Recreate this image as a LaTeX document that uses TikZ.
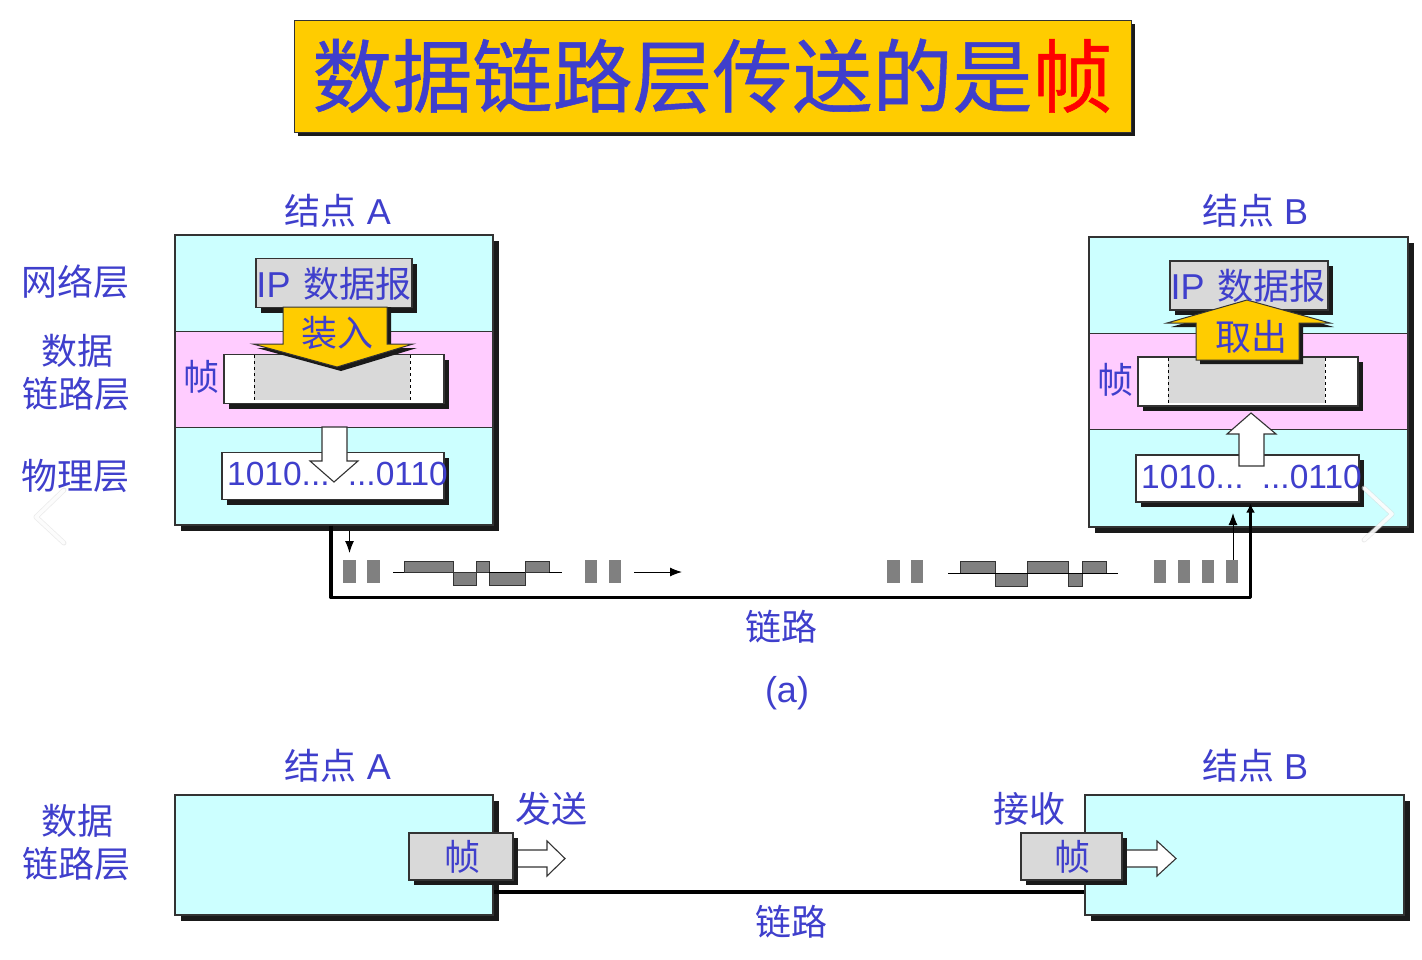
\documentclass[tikz,border=0pt]{standalone}
\usepackage{fontspec}
\setmainfont{Liberation Sans}
\newfontfamily\cjk{Noto Sans CJK SC}
\newfontfamily\cjkt[FakeBold=0.7]{Noto Sans CJK SC}
\usetikzlibrary{shadows,arrows.meta}
\definecolor{txtblue}{HTML}{3F3FCC}
\definecolor{cyanbg}{HTML}{CCFFFF}
\definecolor{pinkbg}{HTML}{FFCCFF}
\definecolor{graybox}{HTML}{D9D9D9}
\definecolor{goldbg}{HTML}{FFCC00}
\definecolor{wave}{HTML}{808080}
\definecolor{edge}{HTML}{333333}
\definecolor{shadowc}{HTML}{1A1A1A}
\newcommand{\zh}[1]{{\cjk #1}}
\tikzset{
  x=1pt,y=-1pt,
  lbl/.style={text=txtblue,font=\fontsize{36}{42}\selectfont,inner sep=0pt,align=center},
  sbox/.style 2 args={draw=edge,line width=1.2pt,inner sep=0pt,minimum width=#1,minimum height=#2,
     drop shadow={shadow xshift=5pt,shadow yshift=-5pt,fill=shadowc,opacity=1}},
  bigbox/.style 2 args={draw=edge,line width=1.2pt,fill=cyanbg,inner sep=0pt,minimum width=#1,minimum height=#2,
     drop shadow={shadow xshift=6pt,shadow yshift=-6pt,fill=shadowc,opacity=1}},
  layerline/.style={draw=edge,line width=1pt},
  bluearrow/.style={draw=edge,line width=1pt,fill=goldbg,line join=miter},
  hollow/.style={draw=edge,line width=1.1pt,fill=white,line join=miter},
  bitrect/.style={fill=wave,draw=none},
  wavefill/.style={fill=wave,draw=edge,line width=1pt},
  baseline/.style={draw=black,line width=1pt},
  thinarrow/.style={draw=black,line width=1pt,-{Latex[length=12pt,width=9pt]}},
  thicklink/.style={draw=black,line width=3.6pt,line join=round},
  chev/.style={draw=white,line width=3.5pt,line cap=round,line join=round,opacity=.85},
  chevedge/.style={draw=black!15,line width=5pt,line cap=round,line join=round,opacity=.5},
}
\begin{document}
\begin{tikzpicture}
\useasboundingbox (0,0) rectangle (1422,959);
\fill[white] (0,0) rectangle (1422,959);

% title
\node[draw=edge,line width=1pt,fill=goldbg,minimum width=837pt,minimum height=112pt,inner sep=0pt,
  drop shadow={shadow xshift=4pt,shadow yshift=-4pt,fill=shadowc,opacity=1},
  text=txtblue,font=\fontsize{80}{90}\selectfont] (title) at (712.5,76)
  {\raisebox{-3pt}{\cjkt 数据链路层传送的是\textcolor{red}{帧}}};

% ---------- node A
\node[bigbox={318pt}{290pt}] (nodeA) at (334,380) {};
\fill[pinkbg] (176,331) rectangle (492,427);
\draw[layerline] (175,331) -- (493,331) (175,427) -- (493,427);
\node[sbox={156pt}{49pt},fill=graybox] (ipA) at (334,283) {};
\node[sbox={220pt}{49pt},fill=white] (frameA) at (334,379) {};
\fill[graybox] (254,355) rectangle (410,400);
\draw[black,line width=.9pt,dashed] (254.5,355) -- (254.5,402) (410.5,355) -- (410.5,402);
\node[sbox={222pt}{47pt},fill=white] (bitsA) at (333,476) {};
\fill[shadowc] (287,307) -- (391,307) -- (391,348) -- (417,348) -- (341,371) -- (257,348) -- (287,348) -- cycle;
\draw[bluearrow] (283,307) -- (387,307) -- (387,344) -- (413,344) -- (337,367) -- (253,344) -- (283,344) -- cycle;
\draw[hollow] (322,427) -- (347,427) -- (347,461) -- (358,461) -- (334,482) -- (310,461) -- (322,461) -- cycle;
\node[lbl] (ipAt) at (334,284) {IP\hspace{3pt} \zh{数据报}};
\node[lbl] (inA) at (337,333) {\zh{装入}};
\node[lbl] (zhenA) at (201,377) {\zh{帧}};
\node[lbl,anchor=west,font=\fontsize{33.5}{40}\selectfont] (b1A) at (227,474) {1010...};
\node[lbl,anchor=east,font=\fontsize{33.5}{40}\selectfont] (b2A) at (448,474) {...0110};

% ---------- node B
\node[bigbox={319pt}{290pt}] (nodeB) at (1248.5,382) {};
\fill[pinkbg] (1090,333) rectangle (1407,429);
\draw[layerline] (1089,333) -- (1408,333) (1089,429) -- (1408,429);
\node[sbox={158pt}{49pt},fill=graybox] (ipB) at (1249,285.5) {};
\node[sbox={220pt}{49pt},fill=white] (frameB) at (1248,381.5) {};
\fill[graybox] (1168,358) rectangle (1325,403);
\draw[black,line width=.9pt,dashed] (1168.5,358) -- (1168.5,405) (1325.5,358) -- (1325.5,405);
\node[sbox={223pt}{47pt},fill=white] (bitsB) at (1247.5,478.5) {};
\fill[shadowc] (1200,364) -- (1303,364) -- (1303,327) -- (1334,327) -- (1251,304) -- (1171,327) -- (1200,327) -- cycle;
\draw[bluearrow] (1196,360) -- (1299,360) -- (1299,323) -- (1330,323) -- (1247,300) -- (1167,323) -- (1196,323) -- cycle;
\draw[hollow] (1239,466) -- (1264,466) -- (1264,434) -- (1276,434) -- (1251,413) -- (1227,434) -- (1239,434) -- cycle;
\node[lbl] (ipBt) at (1248,286) {IP\hspace{3pt} \zh{数据报}};
\node[lbl] (outB) at (1251,337) {\zh{取出}};
\node[lbl] (zhenB) at (1115,380) {\zh{帧}};
\node[lbl,anchor=west,font=\fontsize{33.5}{40}\selectfont] (b1B) at (1141,477) {1010...};
\node[lbl,anchor=east,font=\fontsize{33.5}{40}\selectfont] (b2B) at (1362,477) {...0110};

% ---------- link (a)
\draw[thicklink,-{Latex[length=9pt,width=9pt]}] ([xshift=-3pt]nodeA.south) -- ++(0,72) -| ([xshift=3pt,yshift=-1pt]bitsB.south);

\coordinate (dnEnd) at (349.5,553);
\coordinate (dnStart) at (349.5,531);
\draw[thinarrow] (dnStart) -- (dnEnd);
\coordinate (rtStart) at (634,572);
\coordinate (rtEnd) at (682,572);
\draw[thinarrow] (rtStart) -- (rtEnd);
\coordinate (upStart) at (1233,561);
\coordinate (upEnd) at (1233,513);
\draw[thinarrow] (upStart) -- (upEnd);

% bit marks
\foreach \xa/\xb in {343/356,367/380,585/597,609/621,887/900,911/923,1154/1166,1178/1190,1202/1214,1226/1238}
  \fill[bitrect] (\xa,560) rectangle (\xb,583);

% waveforms
\draw[wavefill] (404,572) |- (453,561) |- (476,585) -- (476,561) -- (489,561) |- (525,585) |- (549,561) -- (549,572) -- cycle;
\draw[baseline] (393,572) -- (404,572) (549,572) -- (562,572) (489,572) -- (525,572);
\draw[wavefill] (960,573) |- (995,561) |- (1027,586) |- (1068,561) |- (1082,586) |- (1106,561) -- (1106,573) -- cycle;
\draw[baseline] (948,573) -- (1118,573);

% ---------- labels
\node[lbl] (lA) at (338,211) {\zh{结点} A};
\node[lbl] (lB) at (1255,211) {\zh{结点} B};
\node[lbl] (net) at (75,282) {\zh{网络层}};
\node[lbl] (dl1) at (77,351) {\zh{数据}};
\node[lbl] (dl2) at (77,394) {\zh{链路层}};
\node[lbl] (phy) at (75,476) {\zh{物理层}};
\node[lbl] (linkT) at (781,627) {\zh{链路}};
\node[lbl] (capA) at (787,693) {(a)};

% ---------- lower figure
\node[lbl] (lA2) at (338,766) {\zh{结点} A};
\node[lbl] (lB2) at (1255,766) {\zh{结点} B};
\node[lbl] (dl3) at (77,821) {\zh{数据}};
\node[lbl] (dl4) at (77,864) {\zh{链路层}};
\node[bigbox={318pt}{120pt}] (lowA) at (334,855) {};
\node[bigbox={319pt}{120pt}] (lowB) at (1244.5,855) {};
\draw[thicklink] ([yshift=-37pt]lowA.east) -- ([yshift=-37pt]lowB.west);
\draw[hollow] (505,850) -- (547,850) -- (547,841) -- (565,858.5) -- (547,876) -- (547,867) -- (505,867) -- cycle;
\draw[hollow] (1115,850) -- (1157,850) -- (1157,841) -- (1176,858.5) -- (1157,876) -- (1157,867) -- (1115,867) -- cycle;
\node[sbox={104pt}{47pt},fill=graybox,lbl] (fA) at (461,856.5) {\kern2pt\raisebox{1pt}{\zh{帧}}};
\node[sbox={101pt}{47pt},fill=graybox,lbl] (fB) at (1071.5,856.5) {\kern2pt\raisebox{1pt}{\zh{帧}}};
\node[lbl] (send) at (551,809) {\zh{发送}};
\node[lbl] (recv) at (1029,809) {\zh{接收}};
\node[lbl] (linkB) at (791,922) {\zh{链路}};

% carousel chevrons
\draw[chevedge] (64,490) -- (36,517) -- (64,543);
\draw[chev] (64,490) -- (36,517) -- (64,543);
\draw[chevedge] (1364,488) -- (1392,514) -- (1364,540);
\draw[chev] (1364,488) -- (1392,514) -- (1364,540);
\end{tikzpicture}
\end{document}
